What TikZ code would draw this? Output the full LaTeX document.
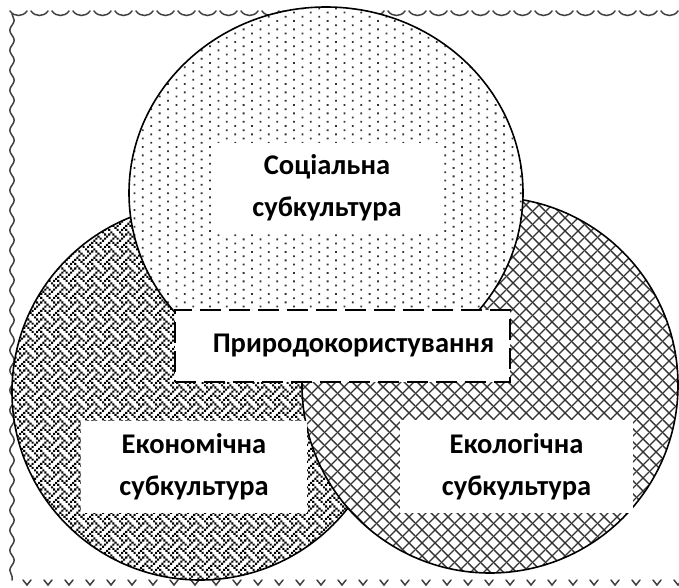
\documentclass[tikz,border=0pt]{standalone}
\usepackage{fontspec}
\setmainfont{Carlito}
\usetikzlibrary{patterns,shapes.geometric,decorations.pathmorphing}

% dotted pattern (social)
\pgfdeclarepatternformonly{socdots}{\pgfqpoint{-1pt}{-1pt}}{\pgfqpoint{15.8pt}{7.4pt}}{\pgfqpoint{16.8pt}{8.4pt}}{%
  \pgfpathrectangle{\pgfqpoint{-0.9pt}{-0.9pt}}{\pgfqpoint{1.8pt}{1.8pt}}%
  \pgfpathrectangle{\pgfqpoint{7.5pt}{3.3pt}}{\pgfqpoint{1.8pt}{1.8pt}}%
  \pgfusepath{fill}}

% diagonal crosshatch (ecology)
\pgfdeclarepatternformonly{xhatch}{\pgfqpoint{0pt}{0pt}}{\pgfqpoint{13pt}{13pt}}{\pgfqpoint{13pt}{13pt}}{%
  \pgfsetlinewidth{1.4pt}%
  \pgfpathmoveto{\pgfqpoint{-1pt}{-1pt}}\pgfpathlineto{\pgfqpoint{14pt}{14pt}}%
  \pgfpathmoveto{\pgfqpoint{-1pt}{14pt}}\pgfpathlineto{\pgfqpoint{14pt}{-1pt}}%
  \pgfusepath{stroke}}

% weave pattern (economy): 8x8 bitmap, 2.1pt pixels
\newcommand\wvpx[2]{\pgfpathrectangle{\pgfqpoint{#1pt}{#2pt}}{\pgfqpoint{2.1pt}{2.1pt}}}
\pgfdeclarepatternformonly{weave}{\pgfqpoint{0pt}{0pt}}{\pgfqpoint{16.8pt}{16.8pt}}{\pgfqpoint{16.8pt}{16.8pt}}{%
  \wvpx{0}{14.7}\wvpx{8.4}{14.7}%
  \wvpx{2.1}{12.6}\wvpx{6.3}{12.6}\wvpx{10.5}{12.6}%
  \wvpx{4.2}{10.5}\wvpx{12.6}{10.5}%
  \wvpx{2.1}{8.4}\wvpx{10.5}{8.4}\wvpx{14.7}{8.4}%
  \wvpx{0}{6.3}\wvpx{8.4}{6.3}%
  \wvpx{6.3}{4.2}\wvpx{10.5}{4.2}\wvpx{14.7}{4.2}%
  \wvpx{4.2}{2.1}\wvpx{12.6}{2.1}%
  \wvpx{2.1}{0}\wvpx{6.3}{0}\wvpx{14.7}{0}%
  \pgfusepath{fill}}

\tikzset{
  bord/.style={line width=1.5pt, black!75, line cap=round},
  venn/.style={draw=black, line width=1.6pt, inner sep=0pt, preaction={fill=white}, pattern color=black!80},
  tbox/.style={fill=white, inner sep=0pt, align=center, font=\bfseries\fontsize{28.5}{42}\selectfont},
  dbox/.style={tbox, draw=black, line width=2.4pt, dash pattern=on 21pt off 8pt}
}

\begin{document}
\begin{tikzpicture}[x=1pt,y=-1pt]
\useasboundingbox (0,0) rectangle (679,588);
\fill[white] (0,0) rectangle (679,588);

% decorative frame
\foreach \x in {10,31,...,670}
  \draw[bord] (\x,11) .. controls (\x+4,17) and (\x+13,17) .. (\x+17,11);
\draw[bord, decorate, decoration={snake, amplitude=2.2pt, segment length=20pt}] (12,14) -- (12,580);
\foreach \x in {23,44,...,675}
  \draw[bord] (\x,580) -- (\x+4,585) -- (\x+8,580);

% circles
\node[venn, circle, minimum size=376pt, pattern=weave, pattern color=black] (eco) at (200,392) {};
\node[venn, circle, minimum size=376pt, pattern=xhatch] (ecol) at (490,385) {};
\node[venn, ellipse, minimum width=394pt, minimum height=372pt, pattern=socdots] (soc) at (326,193) {};

% labels
\node[tbox, minimum width=230pt, minimum height=89pt] (soctxt) at (327,187.5) {Соціальна\\субкультура};
\node[tbox, minimum width=226pt, minimum height=92pt] (ecotxt) at (194,467) {Економічна\\субкультура};
\node[tbox, minimum width=233pt, minimum height=93pt] (ecoltxt) at (516.5,466.5) {Екологічна\\субкультура};
\node[dbox, minimum width=335pt, minimum height=72pt] (nat) at (342.5,346) {\hspace*{22pt}Природокористування};
\end{tikzpicture}
\end{document}
